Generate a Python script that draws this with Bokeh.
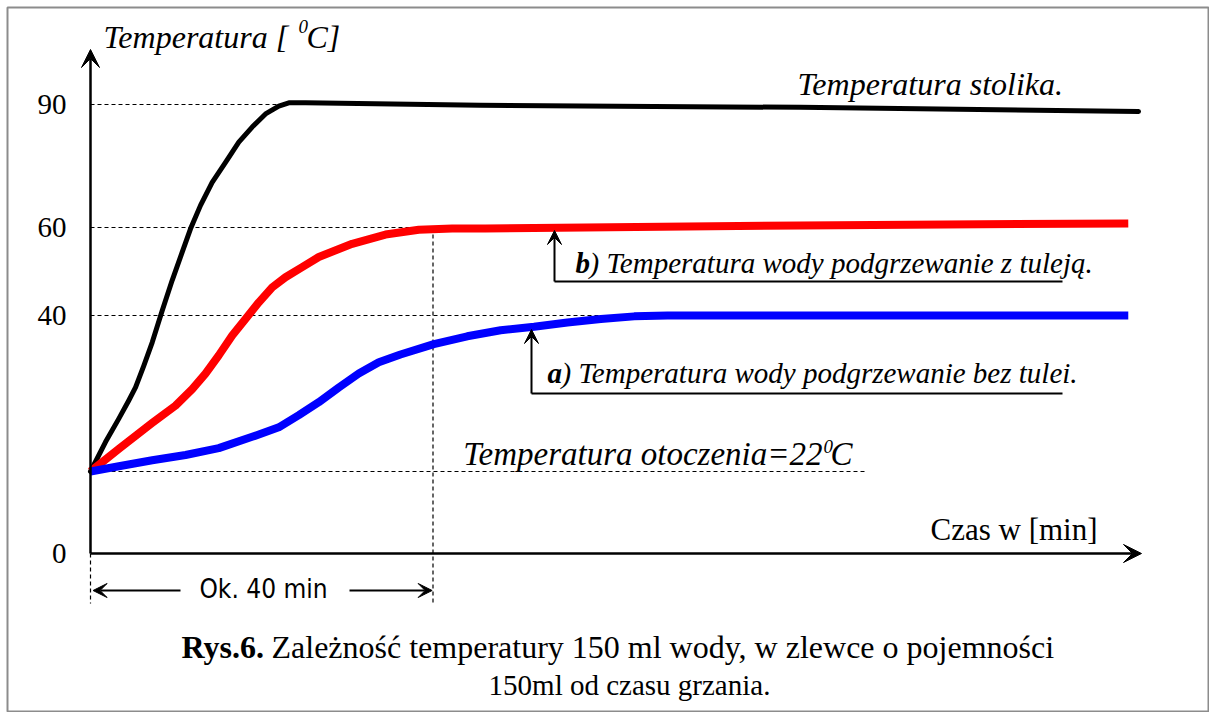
import numpy as np
from bokeh.plotting import figure
from bokeh.models import Arrow, VeeHead, FixedTicker, Label
from bokeh.embed import file_html
from bokeh.resources import INLINE

# ---------------- data ----------------
time_black = [0, 1.75, 3.31, 4.47, 5.26, 6.22, 7.21, 8.37, 9.54, 10.71, 11.68, 12.85, 14.21, 15.77,
              17.32, 18.88, 20.44, 21.99, 23.16, 25.1, 45.5, 82.9, 122.4]
temp_black = [22, 25.4, 28.1, 30.2, 31.7, 34.2, 36.9, 41.1, 48.0, 54.4, 59.7, 65.4, 71.0, 75.9,
              80.8, 84.5, 87.7, 89.6, 90.4, 90.4, 89.8, 89.3, 88.3]

time_red = [0, 3.31, 7.21, 9.93, 11.88, 13.43, 14.98, 16.55, 18.1, 19.66, 21.22, 22.77, 24.72,
            26.66, 30.56, 34.45, 38.34, 42.24, 46.1, 82.9, 121.2]
temp_red = [22, 24.6, 27.6, 29.6, 31.5, 33.3, 35.4, 37.7, 39.6, 43.0, 46.4, 48.7, 51.0,
            53.3, 56.3, 58.4, 59.5, 59.8, 59.8, 60.5, 61.0]

time_blue = [0, 3.31, 7.21, 11.1, 14.98, 18.88, 21.99, 24.33, 26.66, 29.0, 31.33, 33.67, 36.2,
             40.1, 44.0, 47.9, 51.8, 55.7, 59.6, 63.5, 67.4, 121.2]
temp_blue = [22, 22.6, 23.3, 23.9, 24.7, 26.0, 27.1, 28.5, 30.0, 31.7, 33.3, 34.6, 35.5,
             36.7, 37.6, 38.3, 38.7, 39.2, 39.6, 39.9, 40.0, 40.0]

y_tick_values = [0, 40, 60, 90]
ambient_temp = 22
time_marker = 40

# ---------------- schematic (non-linear) temperature axis ----------------
AX_T = [0, 22, 40, 60, 90, 100]
AX_P = [0, 82, 238, 326, 449, 490]


def warp(t):
    return np.interp(np.asarray(t, dtype=float), AX_T, AX_P)


def W(t):
    return float(warp(t))


# pixel helpers for placing annotations (figure pixel coordinates)
PX_PER_MIN = 8.5625


def X(px):
    return (px - 90) / PX_PER_MIN


def Y(py):
    return 553 - py


FW, FH = 1209, 712
p = figure(width=FW, height=FH,
           x_range=(X(0), X(FW)), y_range=(Y(FH), Y(0)),
           output_backend="svg", toolbar_location=None, min_border=0)
p.grid.visible = False
p.outline_line_color = None
p.background_fill_color = "white"
p.border_fill_color = "white"

# page frame
p.quad(left=[X(7)], right=[X(1208)], top=[Y(7)], bottom=[Y(711)],
       fill_color=None, line_color="#8c8c8c", line_width=2)

# y axis
ya = p.yaxis[0]
ya.fixed_location = 0
ya.ticker = FixedTicker(ticks=[W(v) for v in y_tick_values])
ya.major_label_overrides = {W(v): str(v) for v in y_tick_values}
ya.axis_line_color = None
ya.major_tick_line_color = None
ya.minor_tick_line_color = None
ya.major_label_standoff = 18
ya.major_label_text_font = "Liberation Serif"
ya.major_label_text_font_size = "29px"
ya.major_label_text_color = "black"

# x axis
xa = p.xaxis[0]
xa.fixed_location = 0
xa.ticker = FixedTicker(ticks=[])
xa.axis_line_color = None
xa.major_tick_line_color = None
xa.minor_tick_line_color = None

# axis arrows
p.add_layout(Arrow(x_start=0, y_start=0, x_end=0, y_end=Y(49), line_width=2.5,
                   end=VeeHead(size=18, fill_color="black", line_color="black", line_width=1)))
p.add_layout(Arrow(x_start=0, y_start=0, x_end=X(1141), y_end=0, line_width=2.5,
                   end=VeeHead(size=18, fill_color="black", line_color="black", line_width=1)))

# dashed guide lines
dash = dict(line_color="black", line_width=1.2, line_dash="4 3")
p.segment(x0=[0, 0, 0, 0], y0=[W(90), W(60), W(40), W(ambient_temp)],
          x1=[X(288), X(538), X(735), X(867)], y1=[W(90), W(60), W(40), W(ambient_temp)], **dash)
p.segment(x0=[time_marker, 0], y0=[W(60), 0], x1=[time_marker, 0], y1=[Y(603), Y(603)], **dash)

# curves
p.line(time_black, warp(temp_black), line_color="black", line_width=5, line_join="round", line_cap="round")
p.line(time_red, warp(temp_red), line_color="#ff0000", line_width=8, line_join="round", line_cap="butt")
p.line(time_blue, warp(temp_blue), line_color="#0000ff", line_width=8, line_join="round", line_cap="butt")

# callout arrows
head = dict(size=14, fill_color="black", line_color="black", line_width=1)
p.add_layout(Arrow(x_start=X(554), y_start=Y(281), x_end=X(554), y_end=Y(230), line_width=2, end=VeeHead(**head)))
p.add_layout(Arrow(x_start=X(531), y_start=Y(393), x_end=X(531), y_end=Y(329), line_width=2, end=VeeHead(**head)))
p.segment(x0=[X(554), X(531)], y0=[Y(281), Y(393)], x1=[X(1062), X(1062)], y1=[Y(281), Y(393)],
          line_color="black", line_width=2)

# "Ok. 40 min" double arrow
p.add_layout(Arrow(x_start=X(180), y_start=Y(590), x_end=0.3, y_end=Y(590), line_width=2, end=VeeHead(**head)))
p.add_layout(Arrow(x_start=X(349), y_start=Y(590), x_end=time_marker - 0.1, y_end=Y(590), line_width=2,
                   end=VeeHead(**head)))


def lab(text, px, py, size, style="normal", font="Liberation Serif", align="left"):
    # py is the intended baseline; compensate the renderer's baseline offset
    p.add_layout(Label(x=X(px), y=Y(py - 0.35 * size), text=text, text_font=font,
                       text_font_size=f"{size}px", text_font_style=style, text_color="black",
                       text_align=align, text_baseline="alphabetic"))


# texts
lab("Temperatura [ ", 103, 48, 32, "italic")
lab("0", 298, 33, 19, "italic")
lab("C]", 306, 48, 32, "italic")

lab("Temperatura stolika.", 797, 95, 32, "italic")

lab("b", 575, 273, 29, "bold italic")
lab(") Temperatura wody podgrzewanie z tuleją.", 589, 273, 29, "italic")
lab("a", 547, 383, 29, "bold italic")
lab(") Temperatura wody podgrzewanie bez tulei.", 561, 383, 29, "italic")

lab("Temperatura otoczenia=22", 822, 465, 33, "italic", align="right")
lab("0", 823, 453, 19, "italic")
lab("C", 830, 465, 33, "italic")

lab("Czas w [min]", 930, 540, 31)
lab("Ok. 40 min", 263, 598, 26, font="DejaVu Sans Condensed, Liberation Sans", align="center")

lab("Rys.6.", 181, 658, 32, "bold")
lab("Zależność temperatury 150 ml wody, w zlewce o pojemności", 271, 658, 32)
lab("150ml od czasu grzania.", 629, 695, 29, align="center")

open("out.html", "w").write(file_html(p, INLINE))
